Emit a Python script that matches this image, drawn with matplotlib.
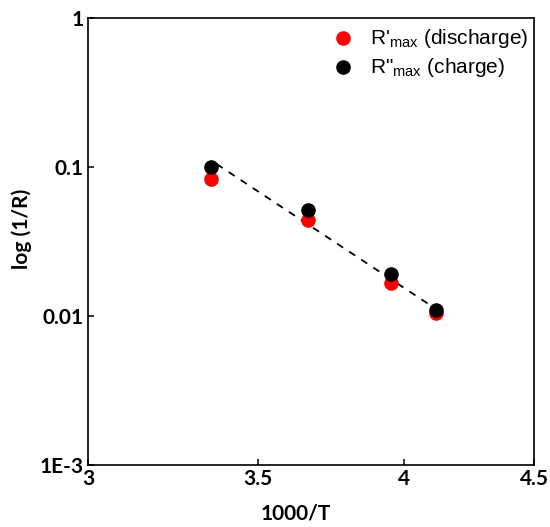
import numpy as np
import matplotlib
matplotlib.use('Agg')
import matplotlib.pyplot as plt
from matplotlib.ticker import FixedLocator, FixedFormatter, NullLocator

# 1000/T para 298, 273, 253, 243 K
inv_t = [3.356, 3.663, 3.953, 4.115]
r_descarga = [0.0831, 0.0441, 0.0166, 0.0104]
r_carga = [0.0995, 0.0514, 0.0191, 0.0109]

# recta de ajuste (extremos)
ajuste_x = [3.372, 4.149]
ajuste_y = [0.1047, 0.0102]

xticks = [3, 3.5, 4, 4.5]
xlabels = ['3', '3.5', '4', '4.5']
yticks = [1e-3, 1e-2, 1e-1, 1]
ylabels = ['1E-3', '0.01', '0.1', '1']

plt.rcParams['mathtext.default'] = 'regular'

fig = plt.figure(figsize=(5.5, 5.27), dpi=100)
ax = fig.add_axes([88/550, 1-465/527, (534-88)/550, (465-18)/527])

ax.plot(ajuste_x, ajuste_y, color='black', lw=1.3, linestyle=(0, (4, 4)), zorder=2)
ax.scatter(inv_t, r_descarga, s=90, color='#ff0000', zorder=3,
           label="R'$_{max}$ (discharge)")
ax.scatter(inv_t, r_carga, s=90, color='black', zorder=4,
           label='R"$_{max}$ (charge)')

ax.set_xscale('log')
ax.set_yscale('log')
ax.set_xlim(3, 4.5)
ax.set_ylim(1e-3, 1)

ax.xaxis.set_major_locator(FixedLocator(xticks))
ax.xaxis.set_major_formatter(FixedFormatter(xlabels))
ax.xaxis.set_minor_locator(NullLocator())
ax.yaxis.set_major_locator(FixedLocator(yticks))
ax.yaxis.set_major_formatter(FixedFormatter(ylabels))
ax.yaxis.set_minor_locator(NullLocator())

ax.tick_params(direction='in', length=4, width=1.1, pad=3)
for lab in ax.get_xticklabels() + ax.get_yticklabels():
    lab.set_fontfamily('Lato')
    lab.set_fontweight('bold')
    lab.set_fontsize(15)
for sp in ax.spines.values():
    sp.set_linewidth(1.2)

ax.set_xlabel('1000/T', fontfamily='Lato', fontweight='bold', fontsize=15)
ax.set_ylabel('log (1/R)', fontfamily='Lato', fontweight='bold', fontsize=15)
ax.xaxis.set_label_coords((296-88)/446, -(513-465)/447, transform=ax.transAxes)
ax.yaxis.set_label_coords(-(88-22)/446, (465-229)/447, transform=ax.transAxes)
ax.xaxis.label.set_va('center')
ax.yaxis.label.set_va('center')

leg = ax.legend(loc='upper left', bbox_to_anchor=(0.5 + 3/446, 1 + 4/447), frameon=False,
                prop={'family': 'Liberation Sans', 'size': 15},
                handletextpad=0.5, labelspacing=0.3, borderaxespad=0.2,
                handlelength=1.6)

fig.savefig('out.png', dpi=100)
